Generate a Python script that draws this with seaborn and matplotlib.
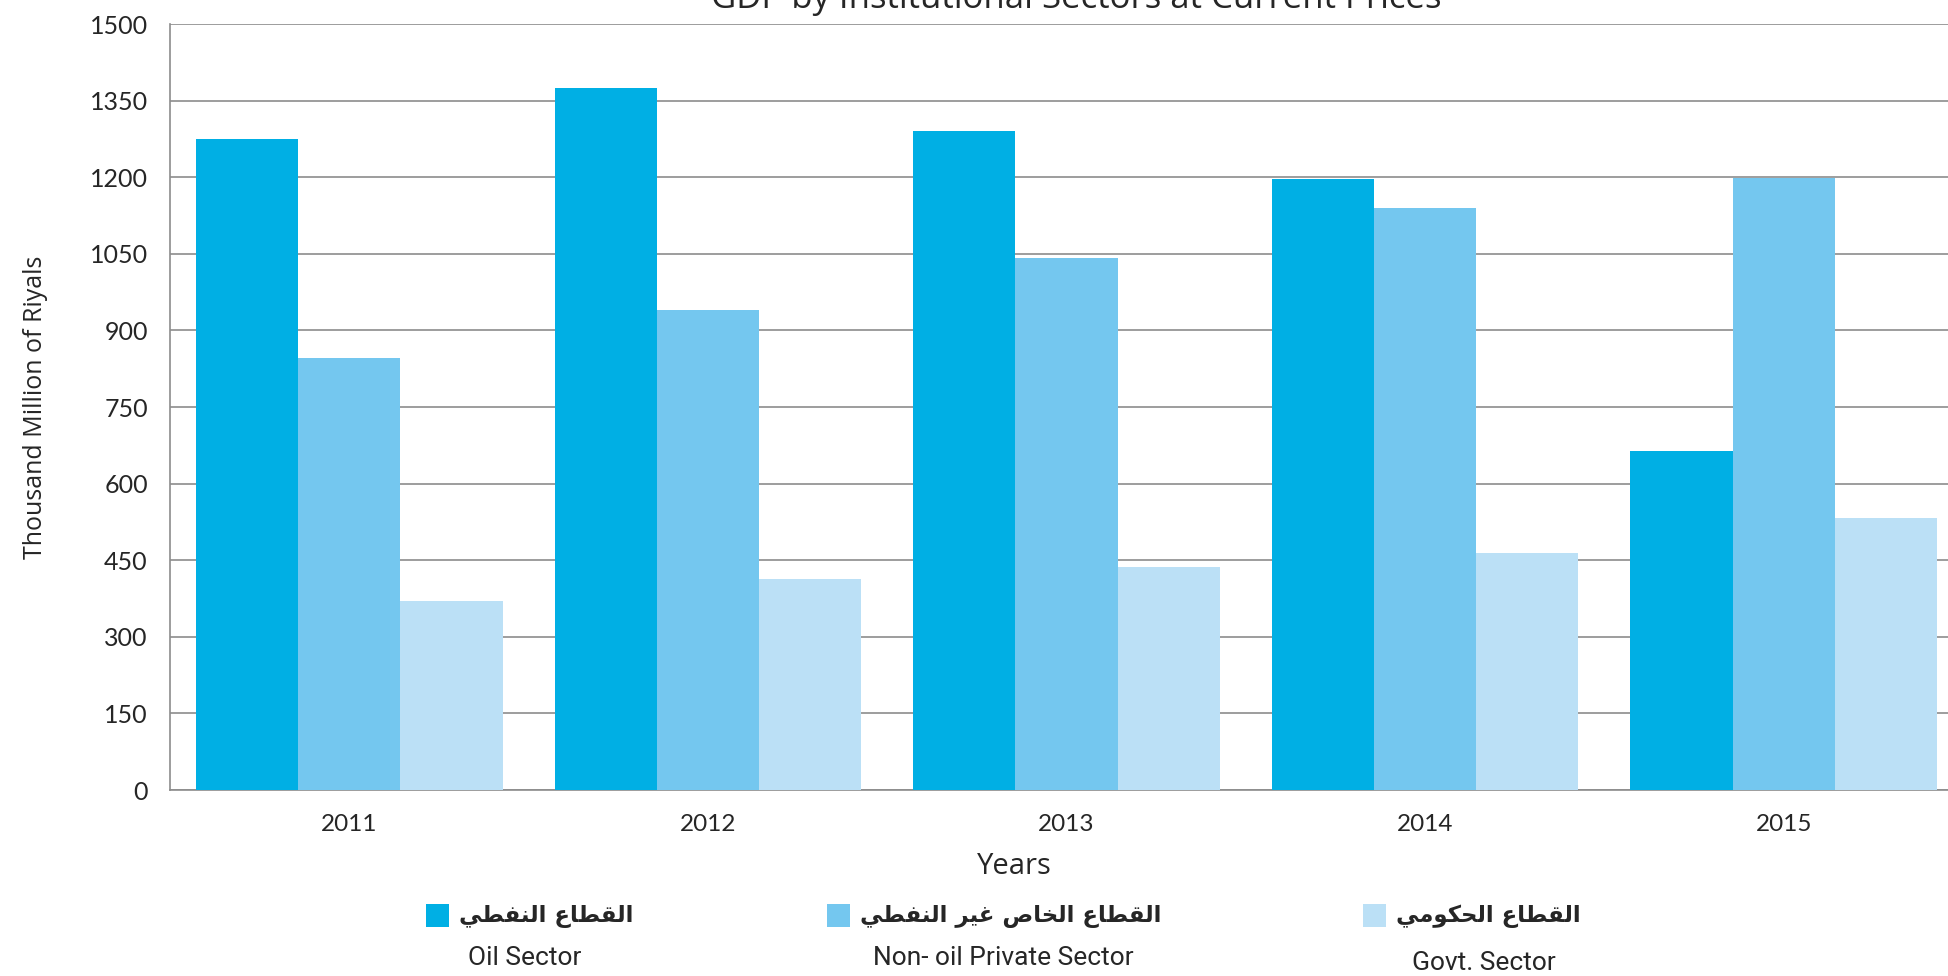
import numpy as np
import pandas as pd
import seaborn as sns
import matplotlib.pyplot as plt
from matplotlib.patches import Rectangle

# data
years = ["2011", "2012", "2013", "2014", "2015"]
oil = [1275, 1375, 1290, 1197, 664]
nonoil = [845, 940, 1041, 1140, 1199]
govt = [370, 413, 437, 465, 533]

sectors = ["Oil Sector", "Non- oil Private Sector", "Govt. Sector"]
sectors_ar = ["القطاع النفطي", "القطاع الخاص غير النفطي", "القطاع الحكومي"]
colors = ["#00AFE4", "#74C7EF", "#BBE0F6"]
yticks = list(range(0, 1501, 150))

# matplotlib has no arabic shaping, so pick contextual forms by hand
FORMS = {
    "ا": ("\uFE8D", "\uFE8E", None, None),
    "ر": ("\uFEAD", "\uFEAE", None, None),
    "و": ("\uFEED", "\uFEEE", None, None),
    "ل": ("\uFEDD", "\uFEDE", "\uFEDF", "\uFEE0"),
    "ق": ("\uFED5", "\uFED6", "\uFED7", "\uFED8"),
    "ط": ("\uFEC1", "\uFEC2", "\uFEC3", "\uFEC4"),
    "ع": ("\uFEC9", "\uFECA", "\uFECB", "\uFECC"),
    "ن": ("\uFEE5", "\uFEE6", "\uFEE7", "\uFEE8"),
    "ف": ("\uFED1", "\uFED2", "\uFED3", "\uFED4"),
    "ي": ("\uFEF1", "\uFEF2", "\uFEF3", "\uFEF4"),
    "خ": ("\uFEA5", "\uFEA6", "\uFEA7", "\uFEA8"),
    "ص": ("\uFEB9", "\uFEBA", "\uFEBB", "\uFEBC"),
    "غ": ("\uFECD", "\uFECE", "\uFECF", "\uFED0"),
    "ح": ("\uFEA1", "\uFEA2", "\uFEA3", "\uFEA4"),
    "ك": ("\uFED9", "\uFEDA", "\uFEDB", "\uFEDC"),
    "م": ("\uFEE1", "\uFEE2", "\uFEE3", "\uFEE4"),
}


def joins_left(c):
    return c in FORMS and FORMS[c][2] is not None


def shape(s):
    out = []
    for i, c in enumerate(s):
        if c not in FORMS:
            out.append(c)
            continue
        prev = s[i - 1] if i > 0 else " "
        nxt = s[i + 1] if i + 1 < len(s) else " "
        p = joins_left(prev)
        n = joins_left(c) and nxt in FORMS
        iso, fin, ini, med = FORMS[c]
        if p and n:
            out.append(med)
        elif p:
            out.append(fin)
        elif n:
            out.append(ini)
        else:
            out.append(iso)
    return "".join(out)[::-1]


df = pd.DataFrame({
    "year": years * 3,
    "sector": [sectors[0]] * 5 + [sectors[1]] * 5 + [sectors[2]] * 5,
    "value": oil + nonoil + govt,
})

sns.set_style("white")
plt.rcParams["font.family"] = ["Lato", "DejaVu Sans"]

W, H = 1948, 976
fig = plt.figure(figsize=(W / 100, H / 100), dpi=100)
ax = fig.add_axes([170 / W, 1 - 790 / H, 1793 / W, 766 / H])

sns.barplot(data=df, x="year", y="value", hue="sector", order=years,
            hue_order=sectors, palette=colors, saturation=1, width=0.855,
            gap=0, legend=False, ax=ax, zorder=3)
for p in ax.patches:
    p.set_linewidth(0)

ax.set_xlim(-0.5, 4.5)
ax.set_ylim(0, 1500)
ax.set_yticks(yticks)
ax.yaxis.grid(True, color="#8C8C8C", linewidth=1.2, zorder=0)
ax.set_axisbelow(True)

for s in ["top", "right"]:
    ax.spines[s].set_visible(False)
for s in ["left", "bottom"]:
    ax.spines[s].set_color("#8C8C8C")
    ax.spines[s].set_linewidth(1.2)

ax.tick_params(axis="y", direction="out", length=6, width=1.2, color="#8C8C8C",
               labelsize=18, pad=10)
ax.tick_params(axis="x", which="major", length=0, labelsize=17.5, pad=17)
ax.set_xticks(np.arange(-0.5, 5, 1), minor=True)
ax.tick_params(axis="x", which="minor", direction="inout", length=12,
               width=1.2, color="#8C8C8C")

ax.set_xlabel("")
ax.set_ylabel("Thousand Million of Riyals", fontsize=18,
              family=["Open Sans", "DejaVu Sans"])
ax.yaxis.set_label_coords(-0.068, 0.5)
fig.text(1014 / W, 1 - 866 / H, "Years", ha="center", va="center",
         fontsize=21, family=["Open Sans", "DejaVu Sans"])

fig.text(1076 / W, 1 - 8 / H, "GDP by Institutional Sectors at Current Prices",
         ha="center", va="baseline", fontsize=25,
         family=["Open Sans", "DejaVu Sans"])

# legend drawn by hand: square + arabic name, english name underneath
sq_x = [426, 827, 1363]
en_x = [525, 1003, 1484]
en_y = [958, 958, 963]
for i in range(3):
    fig.add_artist(Rectangle((sq_x[i] / W, 1 - 927 / H), 23 / W, 23 / H,
                             transform=fig.transFigure, color=colors[i],
                             linewidth=0))
    fig.text((sq_x[i] + 33) / W, 1 - 916 / H, shape(sectors_ar[i]),
             ha="left", va="center", fontsize=16.5, fontweight="bold",
             family=["DejaVu Sans"])
    fig.text(en_x[i] / W, 1 - en_y[i] / H, sectors[i], ha="center",
             va="center", fontsize=19,
             family=["Roboto", "DejaVu Sans"])

fig.savefig("out.png", dpi=100)
